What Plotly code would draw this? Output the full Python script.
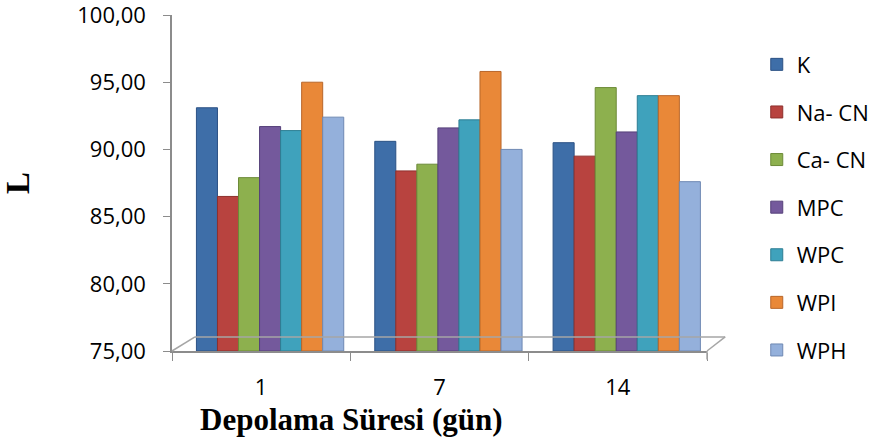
import plotly.graph_objects as go

categories = ["1", "7", "14"]
series_names = ["K", "Na- CN", "Ca- CN", "MPC", "WPC", "WPI", "WPH"]
K = [93.1, 90.6, 90.5]
Na_CN = [86.5, 88.4, 89.5]
Ca_CN = [87.9, 88.9, 94.6]
MPC = [91.7, 91.6, 91.3]
WPC = [91.4, 92.2, 94.0]
WPI = [95.0, 95.8, 94.0]
WPH = [92.4, 90.0, 87.6]
series_values = [K, Na_CN, Ca_CN, MPC, WPC, WPI, WPH]
colors = ["#3E6EA8", "#B8433F", "#8DB04E", "#74599C", "#3FA2BC", "#E98838", "#94B0DB"]
line_colors = ["#2C5285", "#8E302D", "#6C8A37", "#56407A", "#2D7E93", "#B8662A", "#6F89B3"]

n = len(series_names)
bar_w = 0.826 / n
depth_shift = 0.05  # 3D perspective shift of bars to the right

fig = go.Figure()
for i, (name, vals) in enumerate(zip(series_names, series_values)):
    fig.add_trace(go.Bar(
        x=categories, y=[v - 75 for v in vals], base=75, name=name,
        width=bar_w, offset=-0.413 + i * bar_w + depth_shift,
        marker=dict(color=colors[i], line=dict(color=line_colors[i], width=1)),
        legendgroup=name,
    ))

# 3D floor outline (decorative)
floor = dict(type="line", xref="paper", yref="paper", line=dict(color="#A6A6A6", width=1.5))
fig.add_shape(**floor, x0=0.043, y0=0.042, x1=1.034, y1=0.042)
fig.add_shape(**floor, x0=0.0, y0=0.0, x1=0.043, y1=0.042)
fig.add_shape(**floor, x0=1.0, y0=0.0, x1=1.034, y1=0.042)
fig.add_shape(type="line", xref="paper", yref="paper", x0=1.0, y0=0.0, x1=1.0, y1=-0.025,
              line=dict(color="#A6A6A6", width=1.5))

fig.add_annotation(
    text="<b>Depolama Süresi (gün)</b>", xref="paper", yref="paper",
    x=0.336, y=-0.205, xanchor="center", yanchor="middle", showarrow=False,
    font=dict(size=31, family="Liberation Serif", color="#000000"),
)

fig.update_layout(
    width=876, height=446,
    margin=dict(l=172, r=169, t=15, b=95, autoexpand=False),
    paper_bgcolor="white", plot_bgcolor="white",
    barmode="group",
    font=dict(family="Open Sans", color="#000000"),
    legend=dict(x=1.093, y=0.915, xanchor="left", yanchor="top",
                font=dict(size=22, family="Open Sans"),
                tracegroupgap=16, itemwidth=30, bgcolor="rgba(0,0,0,0)"),
    showlegend=True,
    separators=",.",
)
fig.update_yaxes(
    range=[75, 100.001], tickvals=[75, 80, 85, 90, 95, 100], tickformat=".2f",
    showgrid=False, showline=True, linecolor="#8C8C8C", linewidth=1.5,
    ticks="outside", ticklen=7, tickcolor="#8C8C8C", ticklabelstandoff=13,
    ticklabeloverflow="allow",
    tickfont=dict(size=22, family="Open Sans"),
    title=dict(text="<b>L</b>", font=dict(size=33, family="Liberation Serif"), standoff=44),
    zeroline=False, automargin=False,
)
fig.update_xaxes(
    range=[-0.5, 2.5],
    showgrid=False, showline=True, linecolor="#8C8C8C", linewidth=1.5,
    ticks="outside", ticklen=8, tickcolor="#8C8C8C", tickson="boundaries",
    ticklabelstandoff=16,
    tickfont=dict(size=22, family="Open Sans"),
    automargin=False,
)
fig.write_html("out.html")
